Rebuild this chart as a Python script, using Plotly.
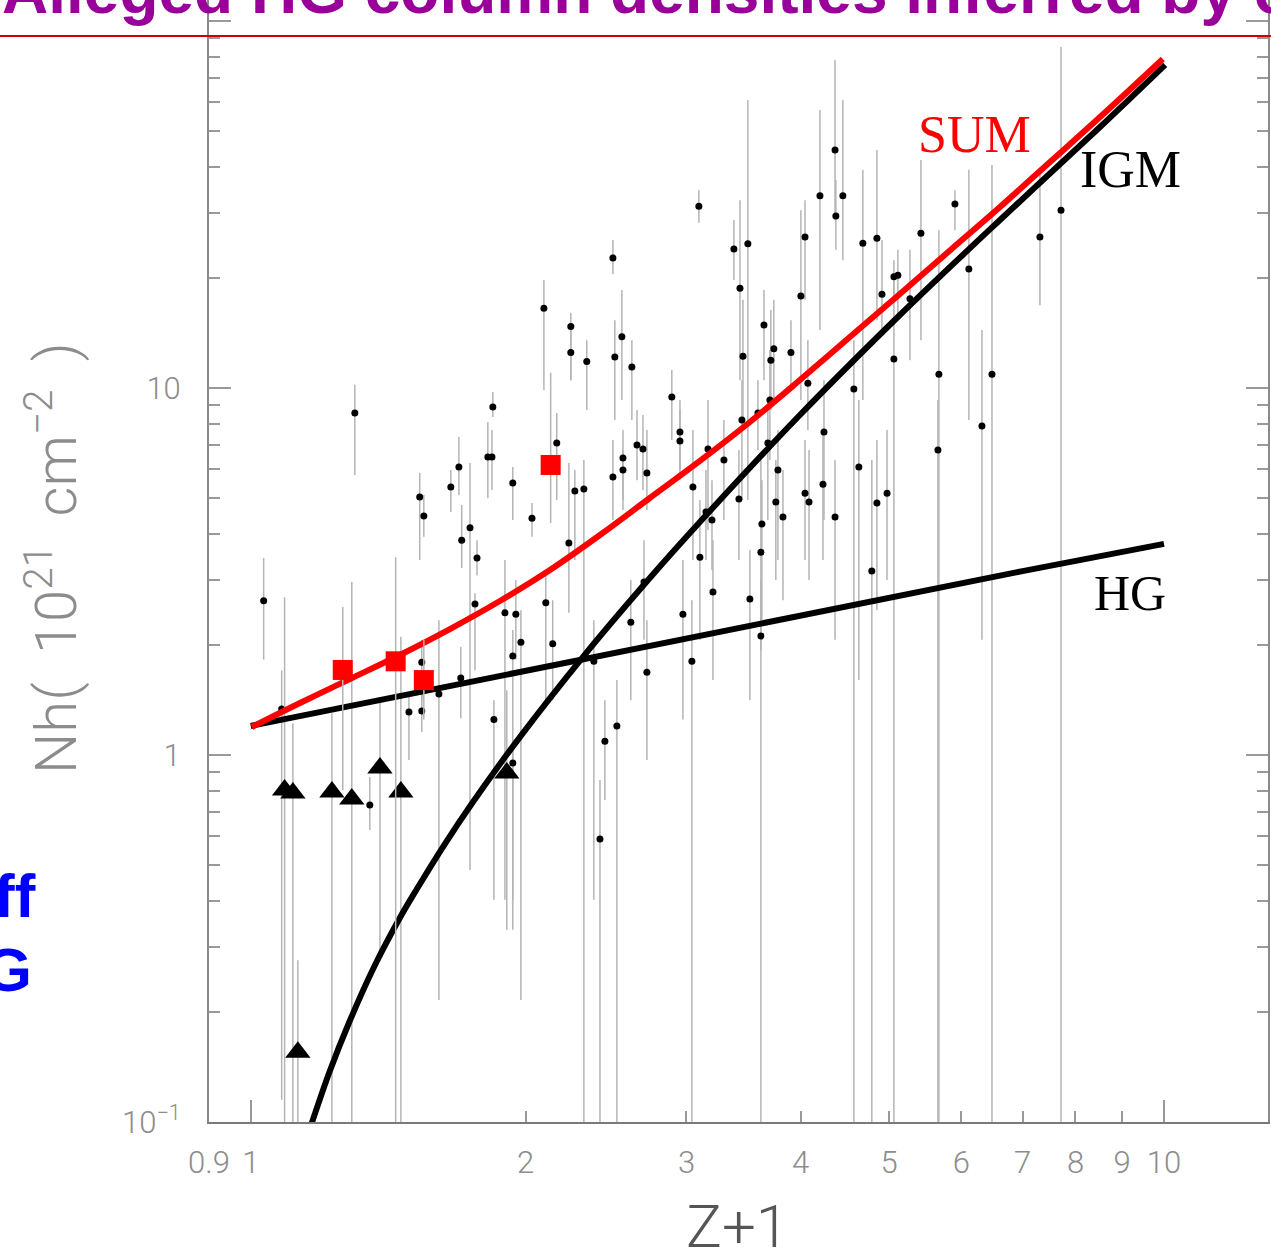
import numpy as np
import plotly.graph_objects as go

# ---- measured column densities (z+1, Nh in 1e21 cm^-2, error-bar extents) ----
z1 = [1.033, 1.081, 1.300, 1.350, 1.490, 1.539, 1.539, 1.531, 1.547, 1.607,
      1.656, 1.690, 1.698, 1.702, 1.738, 1.760, 1.769, 1.818, 1.837, 1.841,
      1.846, 1.898, 1.951, 1.936, 2.032, 2.094, 2.241, 2.241, 2.333, 2.163,
      2.264, 2.316, 2.104, 2.230, 1.976, 1.936, 2.141, 2.375, 2.517, 2.442,
      2.412, 2.492, 2.504, 2.549, 2.614, 2.556, 2.556, 2.648, 2.688, 2.715,
      2.891, 2.951, 2.951, 3.049, 3.167, 3.297, 3.151, 3.199, 3.103, 3.207,
      2.973, 2.695, 2.607, 2.715, 3.041, 3.433, 3.647, 3.459, 3.739, 3.711,
      3.904, 4.003, 3.702, 3.450, 3.592, 3.683, 3.778, 3.424, 3.758, 3.628,
      3.826, 3.619, 3.520, 3.619, 4.074, 4.243, 4.045, 4.086, 4.232, 4.363,
      4.575, 4.633, 4.787, 4.849, 4.974, 3.095, 3.381, 3.502, 4.045, 4.200,
      4.363, 4.450, 4.372, 4.680, 4.849, 4.911, 5.061, 5.112, 5.418, 5.270,
      5.061, 5.669, 5.655, 5.903, 6.114, 6.481, 6.319, 7.314, 7.713, 2.492,
      1.936]
nh = [2.63, 1.335, 8.55, 0.731, 1.31, 1.318, 1.79, 5.05, 4.48, 1.466,
      5.37, 6.09, 1.62, 3.85, 4.16, 2.58, 3.44, 6.49, 6.49, 8.88,
      1.25, 2.44, 2.42, 5.51, 4.42, 16.5, 14.7, 12.5, 11.8, 7.08,
      5.24, 5.31, 2.60, 3.78, 2.03, 1.86, 2.01, 1.80, 1.20, 1.09,
      0.590, 5.72, 12.15, 13.8, 11.4, 6.45, 5.98, 6.99, 6.82, 5.87,
      9.45, 7.59, 7.17, 5.37, 6.82, 6.37, 4.59, 4.37, 3.46, 2.78,
      2.42, 2.96, 2.30, 1.68, 1.80, 18.7, 14.85, 12.2, 12.8, 11.9,
      12.5, 17.8, 9.28, 8.18, 8.55, 7.08, 5.98, 4.98, 4.89, 4.26,
      4.45, 3.57, 2.66, 2.11, 10.3, 7.59, 5.17, 4.89, 5.47, 4.45,
      9.94, 6.09, 3.17, 4.86, 5.17, 31.3, 23.9, 24.7, 25.8, 33.4,
      44.5, 33.4, 29.4, 24.8, 25.6, 18.0, 20.1, 20.3, 26.4, 17.5,
      12.0, 10.9, 6.78, 31.7, 21.1, 10.9, 7.88, 25.8, 30.5, 22.6,
      0.951]
nh_hi = [3.44, 1.70, 10.2, 0.871, 1.46, 1.476, 2.06, 5.87, 5.11, 2.33,
         5.98, 7.35, 1.97, 4.80, 6.25, 2.76, 3.85, 8.08, 7.68, 9.75,
         1.41, 3.40, 3.00, 6.09, 4.86, 19.7, 16.0, 14.4, 13.5, 8.55,
         5.98, 6.37, 3.19, 6.25, 2.48, 2.19, 2.64, 2.33, 1.60, 1.41,
         0.855, 7.22, 15.3, 18.5, 13.5, 7.68, 6.78, 8.71, 8.44, 7.68,
         11.2, 9.28, 8.71, 7.68, 9.28, 8.18, 5.98, 5.61, 4.95, 3.85,
         3.40, 3.85, 3.00, 2.33, 2.64, 32.5, 18.5, 17.4, 17.4, 16.3,
         15.3, 30.5, 12.7, 10.5, 10.5, 9.28, 7.68, 6.78, 6.37, 5.61,
         5.98, 6.37, 3.62, 3.00, 13.5, 10.5, 7.22, 6.78, 7.68, 6.37,
         13.5, 9.28, 6.37, 7.22, 7.68, 34.6, 28.7, 60.9, 32.5, 57.2,
         78.3, 60.9, 36.9, 39.3, 44.5, 25.3, 22.3, 23.8, 41.8, 23.8,
         19.7, 26.9, 9.28, 34.6, 39.3, 40.5, 14.4, 38.1, 85.0, 25.3,
         1.10]
nh_lo = [1.82, 0.115, 5.79, 0.625, 0.969, 1.155, 1.41, 3.40, 3.93, 0.215,
         4.59, 5.11, 1.26, 3.23, 0.486, 1.70, 3.09, 5.01, 5.27, 8.34,
         0.403, 0.403, 1.82, 4.37, 3.93, 9.88, 10.5, 10.5, 8.71, 4.95,
         3.40, 0.1, 1.41, 2.44, 0.215, 0.403, 1.41, 0.403, 0.1, 0.754,
         0.1, 4.37, 8.18, 9.28, 8.18, 4.95, 4.65, 5.61, 5.27, 4.65,
         7.22, 5.98, 5.61, 3.40, 4.10, 4.37, 3.40, 3.19, 2.06, 1.60,
         1.25, 2.06, 1.41, 0.969, 0.1, 10.5, 10.5, 8.18, 9.28, 8.71,
         9.88, 9.28, 6.37, 4.95, 6.78, 4.37, 3.40, 3.40, 3.00, 2.33,
         2.64, 1.93, 1.41, 0.1, 7.68, 4.37, 3.40, 3.00, 3.40, 2.06,
         0.1, 1.60, 0.1, 2.48, 3.00, 28.2, 19.7, 4.95, 17.4, 14.4,
         28.7, 22.3, 23.8, 9.28, 15.3, 14.4, 17.4, 15.3, 13.5, 11.9,
         0.1, 0.1, 0.1, 26.9, 8.18, 0.1, 2.06, 16.8, 0.1, 20.4,
         0.334]

# upper limits (triangles)
lim_z1 = [1.089, 1.112, 1.227, 1.290, 1.385, 1.460, 1.907, 1.126]
lim_nh = [0.803, 0.788, 0.793, 0.759, 0.922, 0.793, 0.893, 0.155]
lim_hi = [2.69, 1.22, 1.30, 2.96, 1.41, 2.10, 1.50, 0.276]
lim_lo = [0.1, 0.1, 0.1, 0.1, 0.294, 0.1, 0.334, 0.1]

# highlighted sources (red squares)
sq_z1 = [1.261, 1.441, 1.547, 2.13]
sq_nh = [1.705, 1.80, 1.60, 6.17]
sq_hi = [2.53, 3.46, 2.06, 11.0]
sq_lo = [0.803, 0.1, 1.25, 4.29]

# model curves
hg_z1 = [1.0, 1.5, 2.0, 3.0, 5.0, 7.0, 10.0]
hg_nh = [1.2, 1.47, 1.70, 2.08, 2.68, 3.17, 3.76]

igm_z1 = [1.160, 1.220, 1.284, 1.367, 1.456, 1.520, 1.631, 1.751, 1.971, 2.31,
          2.735, 3.103, 3.993, 5.138, 6.613, 8.511, 10.03]
igm_nh = [0.0954, 0.1373, 0.1890, 0.2669, 0.3597, 0.4313, 0.572, 0.7446, 1.119, 1.849,
          3.036, 4.314, 8.44, 15.81, 28.7, 51.4, 75.9]

sum_z1 = [1.0025, 1.132, 1.284, 1.456, 1.652, 1.874, 2.126, 2.412, 2.735, 3.103,
          3.520, 3.993, 4.529, 5.138, 5.829, 6.613, 7.502, 8.511, 9.97]
sum_nh = [1.192, 1.386, 1.611, 1.873, 2.204, 2.628, 3.192, 3.976, 5.015, 6.327,
          8.079, 10.51, 13.77, 18.04, 23.70, 31.13, 41.29, 54.74, 78.8]

x_tickvals = [0.9, 1, 2, 3, 4, 5, 6, 7, 8, 9, 10]
x_ticktext = ["0.9", "1", "2", "3", "4", "5", "6", "7", "8", "9", "10"]
y_tickvals = [0.1, 1, 10, 100]
y_ticktext = ["10<sup>\u22121</sup>", "1", "10", "10<sup>2</sup>"]


def bars(vals, hi, lo):
    v = np.array(vals)
    return dict(type="data", symmetric=False,
                array=list(np.array(hi) - v), arrayminus=list(v - np.array(lo)),
                color="#b4b4b4", thickness=1.5, width=0)


GRAY = "#8c8c8c"
LIGHT = dict(family="Roboto", weight=300, color=GRAY)

fig = go.Figure()

fig.add_trace(go.Scatter(x=z1, y=nh, mode="markers",
                         marker=dict(color="black", size=7),
                         error_y=bars(nh, nh_hi, nh_lo)))
fig.add_trace(go.Scatter(x=lim_z1, y=lim_nh, mode="markers",
                         marker=dict(color="black", size=22, symbol="triangle-up"),
                         error_y=bars(lim_nh, lim_hi, lim_lo)))

fig.add_trace(go.Scatter(x=hg_z1, y=hg_nh, mode="lines",
                         line=dict(color="black", width=6)))
fig.add_trace(go.Scatter(x=igm_z1, y=igm_nh, mode="lines",
                         line=dict(color="black", width=6, shape="spline", smoothing=1.0)))
fig.add_trace(go.Scatter(x=sum_z1, y=sum_nh, mode="lines",
                         line=dict(color="#ff0000", width=6, shape="spline", smoothing=1.0)))

fig.add_trace(go.Scatter(x=sq_z1, y=sq_nh, mode="markers",
                         marker=dict(color="#ff0000", size=20, symbol="square"),
                         error_y=bars(sq_nh, sq_hi, sq_lo)))

# companion axis carrying the long decade ticks on the z+1 axis
fig.add_trace(go.Scatter(x=[1, 10], y=[None, None], xaxis="x2", mode="markers",
                         showlegend=False))

xr = [np.log10(0.9), 1.1139]
yr = [-1.0, 2.0572]

fig.update_layout(
    width=1271, height=1255,
    margin=dict(l=209, r=3, t=0, b=133),
    paper_bgcolor="white", plot_bgcolor="white",
    showlegend=False,
    xaxis=dict(type="log", range=xr, tickmode="array",
               tickvals=x_tickvals, ticktext=x_ticktext,
               ticks="inside", ticklen=11, tickwidth=1.5, tickcolor="#999999",
               showline=True, linecolor="#7a7a7a", linewidth=2, mirror=False,
               showgrid=False, zeroline=False,
               tickfont=dict(size=31, **LIGHT), ticklabelstandoff=12),
    xaxis2=dict(type="log", range=xr, overlaying="x", anchor="y", side="bottom",
                tickmode="array", tickvals=[1, 10], ticks="inside", ticklen=22,
                tickwidth=1.5, tickcolor="#999999", showticklabels=False,
                showline=False, showgrid=False, zeroline=False),
    yaxis=dict(type="log", range=yr, tickmode="array",
               tickvals=y_tickvals, ticktext=y_ticktext,
               ticks="inside", ticklen=22, tickwidth=1.5, tickcolor="#999999",
               minor=dict(tickvals=[0.2, 0.3, 0.4, 0.5, 0.6, 0.7, 0.8, 0.9,
                                    2, 3, 4, 5, 6, 7, 8, 9,
                                    20, 30, 40, 50, 60, 70, 80, 90],
                          ticks="inside", ticklen=11, tickwidth=1.5,
                          tickcolor="#999999", showgrid=False),
               showline=True, linecolor="#8a8a8a", linewidth=2, mirror="ticks",
               showgrid=False, zeroline=False,
               tickfont=dict(size=31, **LIGHT), ticklabelstandoff=20),
)

serif = "Liberation Serif"
ann = [
    dict(text="SUM", x=0.7233, y=0.8797, font=dict(family=serif, size=52, color="#ff0000")),
    dict(text="IGM", x=0.8706, y=0.8485, font=dict(family=serif, size=52, color="black")),
    dict(text="HG", x=0.8697, y=0.4715, font=dict(family=serif, size=50, color="black")),
    dict(text="Z+1", x=0.4986, y=-0.0927, font=dict(size=60, family="Roboto", weight=300, color="#555555")),
    dict(text="Nh(  10<sup>21</sup>  cm<sup>\u22122</sup>  )", x=-0.1483, y=0.5027, textangle=-90,
         font=dict(size=58, **LIGHT)),
    dict(text="ff", x=-0.1615, y=0.2023, xanchor="right",
         font=dict(family="Liberation Sans", weight="bold", size=62, color="#0000ff")),
    dict(text="HG", x=-0.1650, y=0.1355, xanchor="right",
         font=dict(family="Liberation Sans", weight="bold", size=62, color="#0000ff")),
    dict(text="Alleged HG column densities inferred by c", x=-0.1974, y=1.008,
         xanchor="left", yanchor="middle",
         font=dict(family="Liberation Sans", weight="bold", size=64, color="#990099")),
]
for a in ann:
    a.setdefault("xanchor", "center")
    a.setdefault("yanchor", "middle")
    fig.add_annotation(xref="paper", yref="paper", showarrow=False, **a)

# slide rule under the heading
fig.add_shape(type="line", xref="paper", yref="paper",
              x0=-0.1974, x1=1.0028, y0=0.9679, y1=0.9679,
              line=dict(color="#cc0000", width=2), layer="above")

fig.write_html("out.html")
